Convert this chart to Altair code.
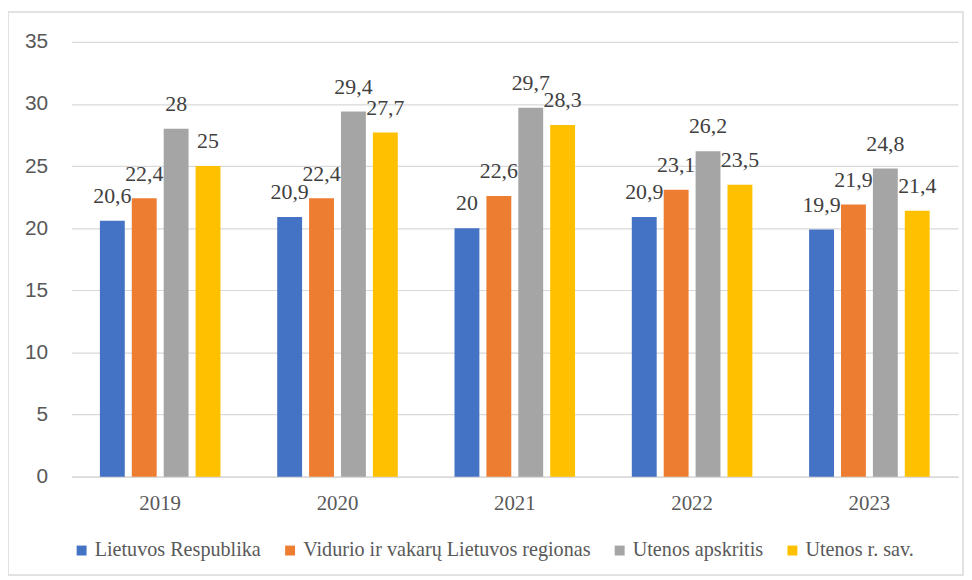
import altair as alt
import pandas as pd

years = ["2019", "2020", "2021", "2022", "2023"]
series = ["Lietuvos Respublika", "Vidurio ir vakarų Lietuvos regionas",
          "Utenos apskritis", "Utenos r. sav."]
colors = ["#4472C4", "#ED7D31", "#A5A5A5", "#FFC000"]
lr = [20.6, 20.9, 20.0, 20.9, 19.9]
vvl = [22.4, 22.4, 22.6, 23.1, 21.9]
ua = [28.0, 29.4, 29.7, 26.2, 24.8]
urs = [25.0, 27.7, 28.3, 23.5, 21.4]

rows = []
for s, vals in zip(series, [lr, vvl, ua, urs]):
    for y, v in zip(years, vals):
        lab = ("%g" % v).replace(".", ",")
        rows.append({"year": y, "series": s, "value": v, "label": lab})
df = pd.DataFrame(rows)

SERIF = "Liberation Serif"
SANS = "Liberation Sans"

x = alt.X("year:N", sort=years, title=None,
          scale=alt.Scale(paddingInner=0.32, paddingOuter=0.16),
          axis=alt.Axis(labelAngle=0, ticks=False, labelFont=SERIF, labelFontSize=21,
                        labelColor="#595959", labelPadding=16, domainColor="#d9d9d9",
                        domainWidth=1.5))
xo = alt.XOffset("series:N", sort=series, scale=alt.Scale(paddingInner=0.22, paddingOuter=0))
y = alt.Y("value:Q", title=None, scale=alt.Scale(domain=[0, 35], nice=False),
          axis=alt.Axis(values=[0, 5, 10, 15, 20, 25, 30, 35], ticks=False, domain=False,
                        labelFont=SANS, labelFontSize=21, labelColor="#595959",
                        labelPadding=24, gridColor="#d9d9d9", gridWidth=1.2))
color = alt.Color("series:N", sort=series,
                  scale=alt.Scale(domain=series, range=colors),
                  legend=alt.Legend(title=None, orient="none", direction="horizontal",
                                    legendX=0, legendY=502, symbolType="square",
                                    symbolSize=100, symbolStrokeWidth=0,
                                    labelFont=SERIF, labelFontSize=20.3, labelColor="#595959",
                                    labelOffset=3, columnPadding=19, labelLimit=400))

bars = alt.Chart(df).mark_bar().encode(x=x, xOffset=xo, y=y, color=color)
text = alt.Chart(df).mark_text(baseline="bottom", dy=-13, font=SERIF, fontSize=22,
                               color="#404040").encode(
    x=x, xOffset=xo, y=y, text="label:N")
border = alt.Chart(pd.DataFrame({"a": [0]})).mark_rect(
    fill=None, stroke="#d9d9d9", strokeWidth=1.5).encode(
    x=alt.value(-64), x2=alt.value(898), y=alt.value(-30), y2=alt.value(537))

chart = alt.layer(border, bars, text).properties(
    width=893, height=438,
    autosize=alt.AutoSizeParams(type="none"),
    padding={"left": 64, "top": 32, "right": 6, "bottom": 100},
).configure_view(stroke=None)

chart.save("out.html", embed_options={"renderer": "svg", "actions": False})
